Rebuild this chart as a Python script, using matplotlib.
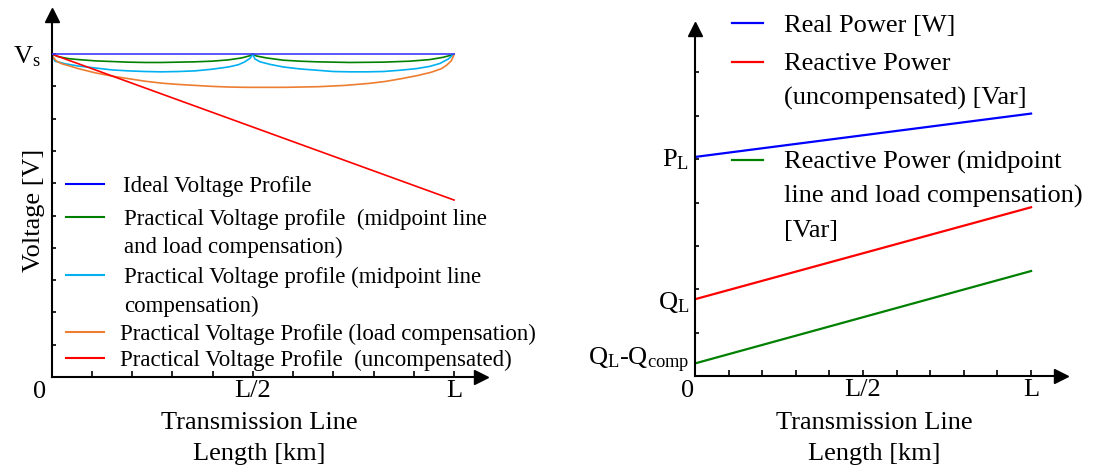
import numpy as np
import matplotlib
matplotlib.use("Agg")
import matplotlib.pyplot as plt
from matplotlib.lines import Line2D

# ---------------------------------------------------------------------------
# Dati (x in frazioni di L)
# ---------------------------------------------------------------------------
x_line = [0.0, 1.0]
v_ideal = [1.0, 1.0]
v_uncomp = [1.0, 0.548]

# compensazione al punto medio + carico (verde)
x_mid_load = [0, 0.0165, 0.041, 0.066, 0.108, 0.149, 0.190, 0.232, 0.273, 0.315, 0.356,
              0.398, 0.439, 0.472, 0.493, 0.5,
              0.509, 0.534, 0.576, 0.617, 0.659, 0.741, 0.824, 0.890, 0.940, 0.973,
              0.994, 1.0]
v_mid_load = [1.0, 0.992, 0.986, 0.983, 0.979, 0.977, 0.975, 0.974, 0.974, 0.975, 0.976,
              0.978, 0.982, 0.988, 0.995, 1.0,
              0.994, 0.988, 0.981, 0.978, 0.976, 0.974, 0.975, 0.978, 0.983, 0.990,
              0.997, 1.0]

# compensazione al punto medio (azzurro)
x_mid = [0, 0.008, 0.033, 0.066, 0.108, 0.149, 0.190, 0.232, 0.273, 0.315, 0.356, 0.398,
         0.439, 0.464, 0.480, 0.493, 0.5,
         0.505, 0.518, 0.543, 0.576, 0.617, 0.659, 0.700, 0.741, 0.783, 0.824, 0.866,
         0.907, 0.940, 0.965, 0.986, 0.997, 1.0]
v_mid = [1.0, 0.978, 0.970, 0.963, 0.957, 0.951, 0.948, 0.946, 0.945, 0.946, 0.948, 0.953,
         0.960, 0.967, 0.976, 0.987, 0.999,
         0.985, 0.976, 0.968, 0.960, 0.954, 0.950, 0.946, 0.945, 0.945, 0.946, 0.950,
         0.955, 0.962, 0.971, 0.985, 0.997, 1.0]

# compensazione al carico (arancio)
x_load = [0, 0.004, 0.0124, 0.025, 0.045, 0.066, 0.108, 0.149, 0.190, 0.232, 0.273, 0.315,
          0.356, 0.398, 0.439, 0.481, 0.514, 0.580, 0.663, 0.729, 0.787, 0.828, 0.870,
          0.911, 0.944, 0.969, 0.982, 0.993, 0.998, 1.0]
v_load = [1.0, 0.989, 0.978, 0.970, 0.963, 0.955, 0.942, 0.932, 0.924, 0.916, 0.910, 0.906,
          0.903, 0.900, 0.898, 0.897, 0.897, 0.897, 0.899, 0.903, 0.909, 0.915, 0.924,
          0.934, 0.944, 0.955, 0.966, 0.979, 0.992, 0.999]

p_real = [5.05, 6.05]
q_uncomp = [1.77, 3.89]
q_comp = [0.29, 2.42]

left_labels = [
    "Ideal Voltage Profile",
    "Practical Voltage profile  (midpoint line\nand load compensation)",
    "Practical Voltage profile (midpoint line\ncompensation)",
    "Practical Voltage Profile (load compensation)",
    "Practical Voltage Profile  (uncompensated)",
]
right_labels = [
    "Real Power [W]",
    "Reactive Power\n(uncompensated) [Var]",
    "Reactive Power (midpoint\nline and load compensation)\n[Var]",
]

BLUE_L = "#3b3bff"
BLUE = "#0000ff"
GREEN = "#008000"
CYAN = "#00b0f0"
ORANGE = "#ed7d31"
RED = "#ff0000"

plt.rcParams["font.family"] = "Liberation Serif"
plt.rcParams["mathtext.fontset"] = "custom"
plt.rcParams["mathtext.rm"] = "Liberation Serif"
plt.rcParams["mathtext.it"] = "Liberation Serif:italic"

W, H = 1095, 476
fig = plt.figure(figsize=(W / 100, H / 100), dpi=100)


def fx(px):
    return px / W


def fy(py):
    return 1 - py / H


def style_axes(ax):
    for s in ("top", "right"):
        ax.spines[s].set_visible(False)
    for s in ("left", "bottom"):
        ax.spines[s].set_linewidth(1.5)
    ax.plot(1, 0, ">k", ms=10, transform=ax.transAxes, clip_on=False)
    ax.plot(0, 1, "^k", ms=10, transform=ax.transAxes, clip_on=False)
    ax.set_xticks([0.5, 1.0])
    ax.set_xticklabels(["L/2", "L"])
    ax.set_xticks([0.1, 0.2, 0.3, 0.4, 0.6, 0.7, 0.8, 0.9], minor=True)
    ax.tick_params(axis="x", which="both", direction="in", length=4.5, width=1.2,
                   labelsize=19, pad=2)


# ---------------------------------------------------------------------------
# Grafico sinistro: profili di tensione
# ---------------------------------------------------------------------------
ax1 = fig.add_axes([fx(51.7), fy(377), fx(481 - 51.7), (377 - 15) / H])
ax1.set_xlim(0, 1.067)
ax1.set_ylim(0, 1.121)
style_axes(ax1)

ax1.plot(x_line, v_ideal, color=BLUE_L, lw=1.2, zorder=5)
ax1.plot(x_mid_load, v_mid_load, color=GREEN, lw=1.2)
ax1.plot(x_mid, v_mid, color=CYAN, lw=1.2)
ax1.plot(x_load, v_load, color=ORANGE, lw=1.2)
ax1.plot(x_line, v_uncomp, color=RED, lw=1.2)

yt = [round(0.1 * i, 1) for i in range(1, 11)]
ax1.set_yticks(yt)
ax1.set_yticklabels([""] * 9 + [r"$\mathrm{V_s}$"])
ax1.tick_params(axis="y", direction="in", length=3, width=1.2, labelsize=19, pad=8)
ax1.annotate("0", xy=(0, 0), xytext=(-8.5, -3), textcoords="offset points",
             ha="center", va="top", fontsize=19, annotation_clip=False)

ax1.set_xlabel("Transmission Line\nLength [km]", fontsize=19, linespacing=1.55)
ax1.xaxis.set_label_coords(0.483, -0.096)
ax1.set_ylabel("Voltage [V]", fontsize=19)
ax1.yaxis.set_label_coords(-0.016, 0.461)

# legenda sinistra
left_colors = [BLUE, GREEN, CYAN, ORANGE, RED]
left_y = [184, 216.7, 275, 331.5, 358]
left_tx = [123, 124, 124, 120, 120]
for lab, c, y, tx in zip(left_labels, left_colors, left_y, left_tx):
    fig.add_artist(Line2D([fx(66), fx(104)], [fy(y), fy(y)], color=c, lw=1.5))
    for i, line in enumerate(lab.split("\n")):
        fig.text(fx(tx), fy(y + i * 28.5), line, fontsize=16.5,
                 ha="left", va="center_baseline")

# ---------------------------------------------------------------------------
# Grafico destro: potenze
# ---------------------------------------------------------------------------
ax2 = fig.add_axes([fx(695), fy(376), fx(366), 347 / H])
ax2.set_xlim(0, 1.089)
ax2.set_ylim(0, 8.0)
style_axes(ax2)

ax2.plot(x_line, p_real, color=BLUE, lw=1.6)
ax2.plot(x_line, q_uncomp, color=RED, lw=1.6)
ax2.plot(x_line, q_comp, color=GREEN, lw=1.6)

ax2.set_yticks([p_real[0], q_uncomp[0], q_comp[0] + 0.18])
ax2.set_yticklabels([r"$\mathrm{P_L}$", r"$\mathrm{Q_L}$",
                     r"$\mathrm{Q_L}$-$\mathrm{Q_{comp}}$"])
ax2.set_yticks([1, 2, 3, 4, 5, 6, 7], minor=True)
ax2.tick_params(axis="y", which="major", length=0, labelsize=19, pad=4)
ax2.tick_params(axis="y", which="minor", direction="in", length=3, width=1.2)
ax2.annotate("0", xy=(0, 0), xytext=(-5, -3), textcoords="offset points",
             ha="center", va="top", fontsize=19, annotation_clip=False)

ax2.set_xlabel("Transmission Line\nLength [km]", fontsize=19, linespacing=1.55)
ax2.xaxis.set_label_coords(0.49, -0.1035)

# legenda destra
right_colors = [BLUE, RED, GREEN]
right_y = [23, 62, 160]
for lab, c, y in zip(right_labels, right_colors, right_y):
    fig.add_artist(Line2D([fx(732), fx(763)], [fy(y), fy(y)], color=c, lw=1.6))
    for i, line in enumerate(lab.split("\n")):
        fig.text(fx(784), fy(y + i * 34), line, fontsize=19,
                 ha="left", va="center_baseline")

fig.savefig("out.png", dpi=100)
